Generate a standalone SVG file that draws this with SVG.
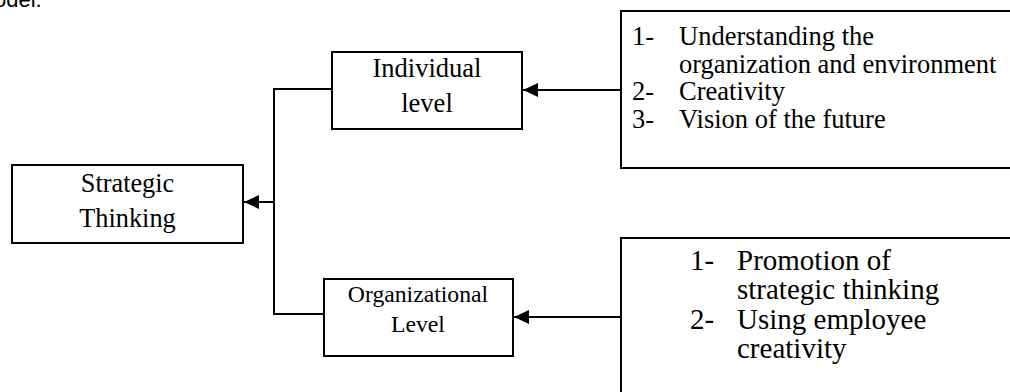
<svg xmlns="http://www.w3.org/2000/svg" width="1010" height="392" viewBox="0 0 1010 392">
<defs>
<style>
.box{fill:#fff;stroke:#000;stroke-width:2}
.t{font-family:"Liberation Serif","Times New Roman",serif;fill:#000}
.c{stroke:#000;stroke-width:2;fill:none}
</style>
<marker id="ah" viewBox="0 0 15 14" refX="15" refY="7" markerWidth="15" markerHeight="14" markerUnits="userSpaceOnUse" orient="auto">
<path d="M0,0 L15,7 L0,14 Z" fill="#000"/>
</marker>
</defs>
<rect width="1010" height="392" fill="#fff"/>
<text x="-6" y="7" font-family="Liberation Sans, Arial, sans-serif" font-size="22" fill="#000">odel.</text>
<g id="connectors">
<line class="c" x1="621" y1="90" x2="523" y2="90" marker-end="url(#ah)"/>
<line class="c" x1="621" y1="317" x2="514" y2="317" marker-end="url(#ah)"/>
<polyline class="c" points="332,89 274,89 274,314 324,314"/>
<line class="c" x1="274" y1="202" x2="244" y2="202" marker-end="url(#ah)"/>
</g>
<g id="strategic">
<rect class="box" x="12" y="165" width="231" height="78"/>
<text class="t" font-size="26.3" text-anchor="middle" x="127.5" y="192">Strategic</text>
<text class="t" font-size="26.3" text-anchor="middle" x="127.5" y="227">Thinking</text>
</g>
<g id="individual">
<rect class="box" x="332" y="52" width="190" height="77"/>
<text class="t" font-size="26.5" text-anchor="middle" x="427" y="77">Individual</text>
<text class="t" font-size="26.5" text-anchor="middle" x="427" y="112">level</text>
</g>
<g id="organizational">
<rect class="box" x="324" y="279" width="189" height="77"/>
<text class="t" font-size="23.7" text-anchor="middle" x="418" y="302">Organizational</text>
<text class="t" font-size="23.7" text-anchor="middle" x="418" y="332">Level</text>
</g>
<g id="individual-list">
<rect class="box" x="621" y="11" width="400" height="157"/>
<g class="t" font-size="26.5">
<text x="632" y="45">1-</text><text x="679" y="45">Understanding the</text>
<text x="679" y="72.5">organization and environment</text>
<text x="632" y="100">2-</text><text x="679" y="100">Creativity</text>
<text x="632" y="128">3-</text><text x="679" y="128">Vision of the future</text>
</g>
</g>
<g id="organizational-list">
<rect class="box" x="621" y="238" width="400" height="170"/>
<g class="t" font-size="29">
<text x="690" y="270">1-</text><text x="737" y="270">Promotion of</text>
<text x="737" y="299">strategic thinking</text>
<text x="690" y="329">2-</text><text x="737" y="329">Using employee</text>
<text x="737" y="358">creativity</text>
</g>
</g>
</svg>
